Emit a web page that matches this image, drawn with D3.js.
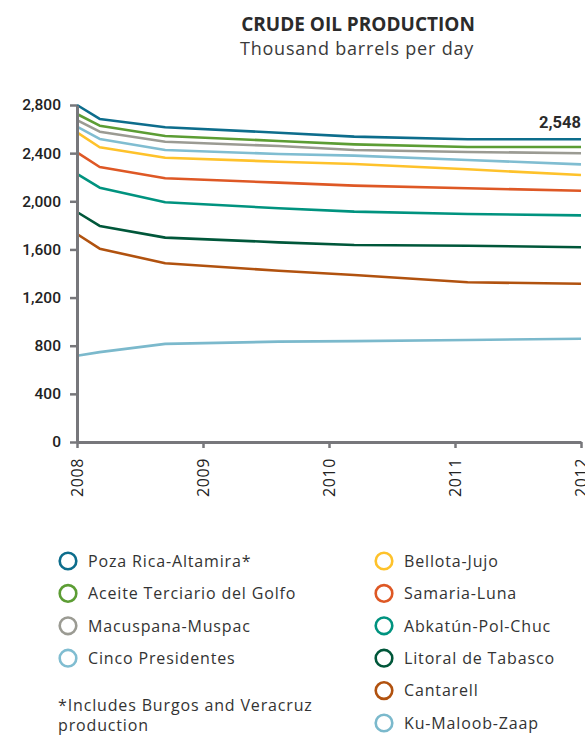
<!DOCTYPE html>
<html>
<head>
<meta charset="utf-8">
<script src="https://cdn.jsdelivr.net/npm/d3@7"></script>
<style>
  body { margin: 0; background: #fff; }
  svg text { fill: #2b2b2b; }
  .axis path, .axis line { stroke: #77777b; }
  .legend text { font-family: "Open Sans", sans-serif; font-size: 16px; letter-spacing: 0.85px; fill: #333; }
</style>
</head>
<body>
<div id="chart"></div>
<script>
// fractional years where the lines bend
var dates = [2008.0, 2008.18, 2008.7, 2009.6, 2010.2, 2011.1, 2012.0];
var yearTicks = [2008, 2009, 2010, 2011, 2012];
var valueTicks = [0, 400, 800, 1200, 1600, 2000, 2400, 2800];

// cumulative levels (each line sits on top of the ones below)
var pozaRica     = [2800, 2684, 2615, 2570, 2537, 2515, 2515];
var aceite       = [2725, 2628, 2543, 2501, 2473, 2451, 2451];
var macuspana    = [2675, 2578, 2495, 2459, 2426, 2410, 2399];
var cinco        = [2620, 2518, 2426, 2393, 2379, 2343, 2307];
var bellota      = [2573, 2449, 2362, 2329, 2310, 2266, 2218];
var samaria      = [2407, 2285, 2191, 2155, 2130, 2108, 2088];
var abkatun      = [2227, 2113, 1992, 1942, 1914, 1894, 1883];
var litoral      = [1911, 1795, 1698, 1659, 1637, 1631, 1618];
var cantarell    = [1728, 1606, 1485, 1423, 1388, 1327, 1315];
var kuMaloob     = [717, 747, 815, 834, 838, 848, 858];

var totalLabel = 2548;

var series = [
  {name: "Poza Rica-Altamira*",         values: pozaRica,  color: "#0d6d8c"},
  {name: "Aceite Terciario del Golfo",  values: aceite,    color: "#5c9d34"},
  {name: "Macuspana-Muspac",            values: macuspana, color: "#9b9b93"},
  {name: "Cinco Presidentes",           values: cinco,     color: "#80bdd1"},
  {name: "Bellota-Jujo",                values: bellota,   color: "#fec22b"},
  {name: "Samaria-Luna",                values: samaria,   color: "#de5825"},
  {name: "Abkatún-Pol-Chuc",            values: abkatun,   color: "#00937f"},
  {name: "Litoral de Tabasco",          values: litoral,   color: "#00573a"},
  {name: "Cantarell",                   values: cantarell, color: "#b1520f"},
  {name: "Ku-Maloob-Zaap",              values: kuMaloob,  color: "#7bb9cc"}
];

var W = 585, H = 736;
var plot = {left: 77, right: 581, top: 105, bottom: 442};

var svg = d3.select("#chart").append("svg")
  .attr("width", W).attr("height", H);

// Titre
svg.append("text")
  .attr("x", 358).attr("y", 31)
  .attr("text-anchor", "middle")
  .style("font-family", "'Open Sans', sans-serif")
  .style("font-weight", 700).style("font-size", "19px")
  .text("CRUDE OIL PRODUCTION");
svg.append("text")
  .attr("x", 357).attr("y", 55)
  .attr("text-anchor", "middle")
  .style("font-family", "'Open Sans', sans-serif")
  .style("font-size", "18px").style("letter-spacing", "0.8px")
  .style("fill", "#3a3a3a")
  .text("Thousand barrels per day");

var x = d3.scaleLinear().domain([2008, 2012]).range([plot.left, plot.right]);
var y = d3.scaleLinear().domain([0, 2800]).range([plot.bottom, plot.top]);

// Lignes
var line = d3.line()
  .x(function(d, i) { return x(dates[i]); })
  .y(function(d) { return y(d); });

svg.append("g").selectAll("path")
  .data(series.slice().reverse())
  .enter().append("path")
  .attr("fill", "none")
  .attr("stroke", function(d) { return d.color; })
  .attr("stroke-width", 2.6)
  .attr("stroke-linejoin", "round")
  .attr("d", function(d) { return line(d.values); });

// Axe y
var yAxis = svg.append("g")
  .attr("class", "axis")
  .attr("transform", `translate(${plot.left},0)`)
  .call(d3.axisLeft(y).tickValues(valueTicks).tickFormat(d3.format(",")).tickSize(7).tickSizeOuter(0));
yAxis.select(".domain").attr("stroke-width", 3);
yAxis.selectAll(".tick line").attr("stroke-width", 2.5);
yAxis.selectAll(".tick text")
  .attr("x", -16)
  .style("font-family", "Roboto, sans-serif")
  .style("font-weight", 500).style("font-size", "15.5px").style("fill", "#222");

// Axe x
var xAxis = svg.append("g")
  .attr("class", "axis")
  .attr("transform", `translate(0,${plot.bottom})`)
  .call(d3.axisBottom(x).tickValues(yearTicks).tickFormat(d3.format("d")).tickSize(6).tickSizeOuter(0));
xAxis.select(".domain").attr("stroke-width", 3);
xAxis.selectAll(".tick line").attr("stroke-width", 2.5);
xAxis.selectAll(".tick text")
  .attr("transform", "rotate(-90)")
  .attr("text-anchor", "end")
  .attr("x", -16).attr("y", 0).attr("dy", "0.35em")
  .style("font-family", "'Open Sans', sans-serif")
  .style("font-size", "16px").style("letter-spacing", "0.6px").style("fill", "#222");

// Total
svg.append("text")
  .attr("x", x(dates[dates.length - 1]))
  .attr("y", y(pozaRica[pozaRica.length - 1]) - 11)
  .attr("text-anchor", "end")
  .style("font-family", "Roboto, sans-serif")
  .style("font-weight", 700).style("font-size", "16.5px")
  .text(d3.format(",")(totalLabel));

// Légende
var legend = svg.append("g").attr("class", "legend");
var rowH = 32.4;
var items = legend.selectAll("g.item")
  .data(series)
  .enter().append("g")
  .attr("class", "item")
  .attr("transform", function(d, i) {
    var col = i < 4 ? 0 : 1;
    var row = i < 4 ? i : i - 4;
    return `translate(${col ? 384 : 68},${561 + row * rowH})`;
  });
items.append("circle")
  .attr("r", 8.3)
  .attr("fill", "#fff")
  .attr("stroke", function(d) { return d.color; })
  .attr("stroke-width", 2.6);
items.append("text")
  .attr("x", 20).attr("dy", "0.36em")
  .text(function(d) { return d.name; });

legend.append("text").attr("x", 58).attr("y", 711).text("*Includes Burgos and Veracruz");
legend.append("text").attr("x", 58).attr("y", 731).text("production");
</script>
</body>
</html>
